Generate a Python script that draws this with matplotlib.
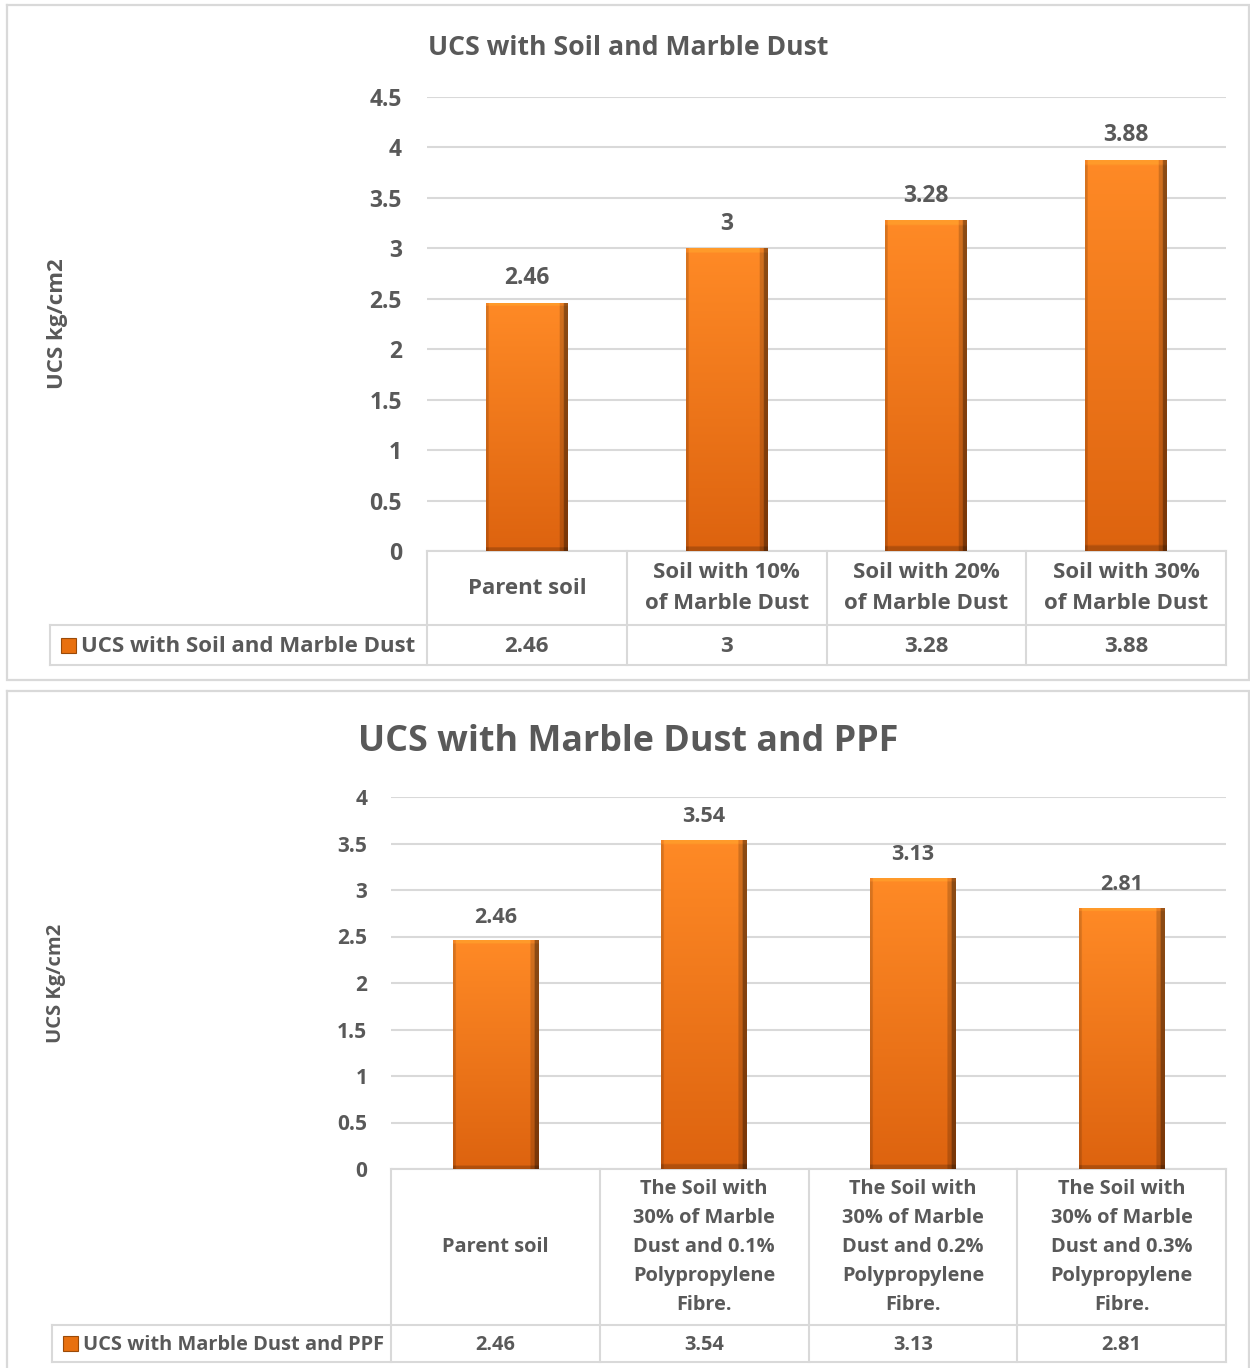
import matplotlib
matplotlib.use('Agg')
import matplotlib.pyplot as plt
import numpy as np
from matplotlib.transforms import blended_transform_factory
from matplotlib.colors import to_rgb

# ---------------- data ----------------
top_title = 'UCS with Soil and Marble Dust'
top_categories = ['Parent soil', 'Soil with 10%\nof Marble Dust',
                  'Soil with 20%\nof Marble Dust', 'Soil with 30%\nof Marble Dust']
top_values = [2.46, 3.0, 3.28, 3.88]
top_value_labels = ['2.46', '3', '3.28', '3.88']
top_yticks = [0, 0.5, 1, 1.5, 2, 2.5, 3, 3.5, 4, 4.5]
top_ytick_labels = ['0', '0.5', '1', '1.5', '2', '2.5', '3', '3.5', '4', '4.5']
top_ylabel = 'UCS kg/cm2'
top_series = 'UCS with Soil and Marble Dust'

bot_title = 'UCS with Marble Dust and PPF'
bot_categories = ['Parent soil',
                  'The Soil with\n30% of Marble\nDust and 0.1%\nPolypropylene\nFibre.',
                  'The Soil with\n30% of Marble\nDust and 0.2%\nPolypropylene\nFibre.',
                  'The Soil with\n30% of Marble\nDust and 0.3%\nPolypropylene\nFibre.']
bot_values = [2.46, 3.54, 3.13, 2.81]
bot_value_labels = ['2.46', '3.54', '3.13', '2.81']
bot_yticks = [0, 0.5, 1, 1.5, 2, 2.5, 3, 3.5, 4]
bot_ytick_labels = ['0', '0.5', '1', '1.5', '2', '2.5', '3', '3.5', '4']
bot_ylabel = 'UCS Kg/cm2'
bot_series = 'UCS with Marble Dust and PPF'

# ---------------- style ----------------
W, H = 1250, 1368
plt.rcParams['font.family'] = ['Open Sans', 'DejaVu Sans']
TXT = '#595959'
GRID = '#d9d9d9'
ORANGE_TOP = to_rgb('#ff8a26')
ORANGE_BOT = to_rgb('#dd630f')

fig = plt.figure(figsize=(W / 100, H / 100), dpi=100)

ov = fig.add_axes([0, 0, 1, 1], zorder=0)
ov.set_xlim(0, W)
ov.set_ylim(H, 0)
ov.axis('off')


def axes_px(x0, y0, x1, y1):
    ax = fig.add_axes([x0 / W, 1 - y1 / H, (x1 - x0) / W, (y1 - y0) / H], zorder=2)
    ax.patch.set_alpha(0)
    return ax


def gradient_image():
    n, m = 200, 60
    t = np.linspace(0, 1, n)[:, None, None]
    top = np.array(ORANGE_TOP)[None, None, :]
    bot = np.array(ORANGE_BOT)[None, None, :]
    img = top * (1 - t) + bot * t
    img = np.repeat(img, m, axis=1)
    # bevel: dark right edge, light top strip, dark bottom strip
    img[:, -3:, :] *= 0.55
    img[:, -6:-3, :] *= 0.82
    img[:, :2, :] *= 0.85
    img[:3, :, :] = np.clip(img[:3, :, :] * 1.12, 0, 1)
    img[-3:, :, :] *= 0.8
    return np.clip(img, 0, 1)


GRAD = gradient_image()


def draw_chart(box, plot, title, title_fs, title_y, cats, vals, vlabels, yticks, yticklabels,
               ylabel, ylabel_x, ylabel_fs, series, legend_left, row1_bottom, row2_bottom,
               tick_pad, tick_fs, dlabel_fs, cat_fs, cat_ls, label_offset):
    bx0, by0, bx1, by1 = box
    ov.plot([bx0, bx1, bx1, bx0, bx0], [by0, by0, by1, by1, by0], color=GRID, lw=1.6,
            solid_joinstyle='miter')
    px0, py0, px1, py1 = plot
    ax = axes_px(px0, py0, px1, py1)
    x = np.arange(len(vals))
    bars = ax.bar(x, vals, width=0.41, color='#f07818', edgecolor='none', zorder=2)
    for b in bars:
        im = ax.imshow(GRAD, extent=[b.get_x(), b.get_x() + b.get_width(), 0, b.get_height()],
                       aspect='auto', origin='upper', zorder=3, interpolation='bilinear')
        im.set_clip_path(b)
    ax.set_xlim(-0.5, len(vals) - 0.5)
    ax.set_ylim(yticks[0], yticks[-1])
    ax.set_yticks(yticks)
    ax.set_yticklabels(yticklabels, fontsize=tick_fs, fontweight='bold', color=TXT)
    ax.set_xticks([])
    ax.tick_params(axis='y', length=0, pad=tick_pad)
    ax.grid(axis='y', color=GRID, lw=1.5, zorder=0)
    ax.set_axisbelow(True)
    for s in ax.spines.values():
        s.set_visible(False)
    for i, (v, lab) in enumerate(zip(vals, vlabels)):
        ax.annotate(lab, (i, v), xytext=(0, label_offset), textcoords='offset points',
                    ha='center', va='bottom', fontsize=dlabel_fs, fontweight='bold', color=TXT)
    # title & ylabel
    fig.text((bx0 + bx1) / 2 / W + 0.0, 1 - title_y / H, title, ha='center', va='center',
             fontsize=title_fs, fontweight='bold', color=TXT)
    fig.text(ylabel_x / W, 1 - ((py0 + py1) / 2) / H, ylabel, rotation=90, ha='center',
             va='center', fontsize=ylabel_fs, fontweight='bold', color=TXT)
    # data table lines
    n = len(vals)
    cw = (px1 - px0) / n
    ov.plot([px0, px1], [py1, py1], color=GRID, lw=1.5)
    ov.plot([legend_left, px1], [row1_bottom, row1_bottom], color=GRID, lw=1.5)
    ov.plot([legend_left, px1], [row2_bottom, row2_bottom], color=GRID, lw=1.5)
    for k in range(n + 1):
        xx = px0 + k * cw
        ov.plot([xx, xx], [py1, row2_bottom], color=GRID, lw=1.5)
    ov.plot([legend_left, legend_left], [row1_bottom, row2_bottom], color=GRID, lw=1.5)
    # table texts, positioned at category centres via the data axis
    trans = blended_transform_factory(ax.transData, ov.transData)
    for i, c in enumerate(cats):
        ax.text(i, (py1 + row1_bottom) / 2, c, transform=trans, ha='center', va='center',
                fontsize=cat_fs, fontweight='bold', color=TXT, linespacing=cat_ls,
                clip_on=False)
        ax.text(i, (row1_bottom + row2_bottom) / 2 + 1, vlabels[i], transform=trans,
                ha='center', va='center', fontsize=cat_fs, fontweight='bold', color=TXT,
                clip_on=False)
    # legend key
    ym = (row1_bottom + row2_bottom) / 2
    ov.add_patch(plt.Rectangle((legend_left + 11, ym - 7.5), 15, 15, facecolor='#e8700f',
                               edgecolor='#9a4a08', lw=0.8))
    ov.text(legend_left + 31, ym + 1, series, ha='left', va='center', fontsize=cat_fs,
            fontweight='bold', color=TXT)
    return ax


draw_chart(box=(7, 5, 1249, 680), plot=(427, 97, 1226, 551), title=top_title, title_fs=19.2,
           title_y=48, cats=top_categories, vals=top_values, vlabels=top_value_labels,
           yticks=top_yticks, yticklabels=top_ytick_labels, ylabel=top_ylabel, ylabel_x=58,
           ylabel_fs=16, series=top_series, legend_left=50, row1_bottom=625, row2_bottom=665,
           tick_pad=18, tick_fs=16.5, dlabel_fs=16.5, cat_fs=16, cat_ls=1.65, label_offset=9)

draw_chart(box=(7, 691, 1249, 1380), plot=(391, 797, 1226, 1169), title=bot_title, title_fs=25.8,
           title_y=742, cats=bot_categories, vals=bot_values, vlabels=bot_value_labels,
           yticks=bot_yticks, yticklabels=bot_ytick_labels, ylabel=bot_ylabel, ylabel_x=56,
           ylabel_fs=14.5, series=bot_series, legend_left=52, row1_bottom=1325, row2_bottom=1362,
           tick_pad=17, tick_fs=15, dlabel_fs=15.5, cat_fs=14.4, cat_ls=1.6, label_offset=9)

fig.savefig('out.png', dpi=100, facecolor='white')
